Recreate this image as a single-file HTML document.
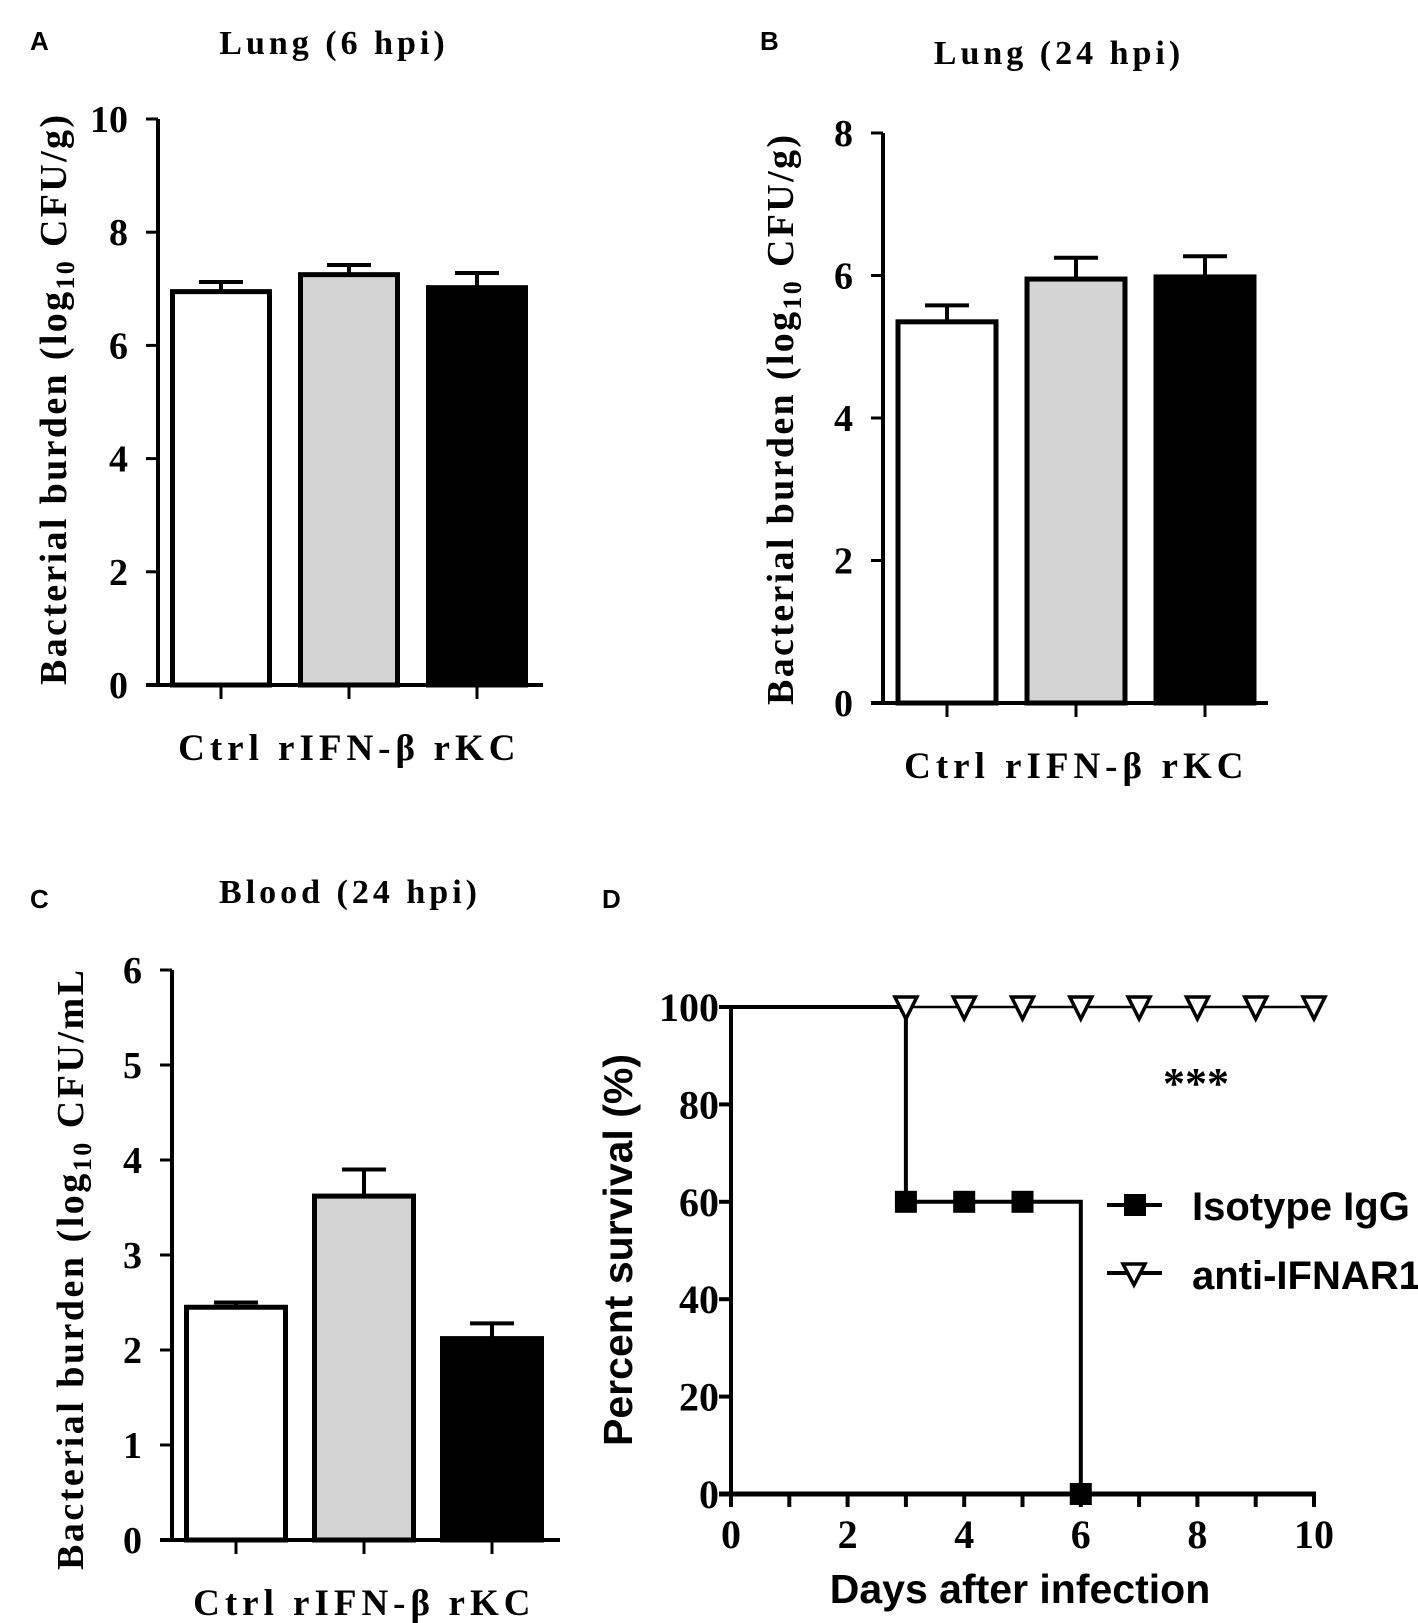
<!DOCTYPE html>
<html><head><meta charset="utf-8"><style>
html,body{margin:0;padding:0;background:#fff}
svg{display:block}
.serif{font-family:"Liberation Serif",serif;font-weight:bold}
.sans{font-family:"Liberation Sans",sans-serif;font-weight:bold}
</style></head><body>
<svg id="fig" width="1418" height="1623" viewBox="0 0 1418 1623" xmlns="http://www.w3.org/2000/svg">
<g id="gA"></g>
<g id="gB"></g>
<g id="gC"></g>
<g id="gD"></g>
</svg>
<script>
const categories = ["Ctrl", "rIFN-β", "rKC"];
const barFills = ["#ffffff", "#d4d4d4", "#000000"];
const aMeans = [6.95, 7.25, 7.02];
const aErrors = [0.17, 0.17, 0.26];
const aTicks = [0, 2, 4, 6, 8, 10];
const bMeans = [5.35, 5.95, 5.98];
const bErrors = [0.23, 0.3, 0.29];
const bTicks = [0, 2, 4, 6, 8];
const cMeans = [2.45, 3.62, 2.12];
const cErrors = [0.05, 0.28, 0.16];
const cTicks = [0, 1, 2, 3, 4, 5, 6];
const dDays = [0, 1, 2, 3, 4, 5, 6, 7, 8, 9, 10];
const dXTicks = [0, 2, 4, 6, 8, 10];
const dYTicks = [0, 20, 40, 60, 80, 100];
const isoStepX = [0, 3, 3, 6, 6, 10];
const isoStepY = [100, 100, 60, 60, 0, 0];
const isoMarkX = [3, 4, 5, 6];
const isoMarkY = [60, 60, 60, 0];
const antiStepX = [0, 10];
const antiStepY = [100, 100];
const antiMarkX = [3, 4, 5, 6, 7, 8, 9, 10];
const antiMarkY = [100, 100, 100, 100, 100, 100, 100, 100];

const NS = "http://www.w3.org/2000/svg";
function mk(parent, tag, attrs, text) {
  const e = document.createElementNS(NS, tag);
  for (const k in attrs) e.setAttribute(k, attrs[k]);
  if (text !== undefined) e.textContent = text;
  parent.appendChild(e);
  return e;
}

function barPanel(g, cfg, means, errs, ticks) {
  const ymax = ticks[ticks.length - 1];
  const y = v => cfg.y0 - (v / ymax) * (cfg.y0 - cfg.yTop);
  const cx = i => cfg.c0 + i * cfg.step;
  let el = mk(g, "text", {x: cfg.lx, y: cfg.ly, class: "sans", "font-size": 26}, cfg.letter);
  
  
  el = mk(g, "text", {x: cfg.tx, y: cfg.ty, class: "serif", "font-size": 34, "text-anchor": "middle", "letter-spacing": 4}, cfg.title);
  
  
  means.forEach((m, i) => {
    const x0 = cx(i) - cfg.bw / 2;
    const r = mk(g, "rect", {x: x0, y: y(m), width: cfg.bw, height: cfg.y0 - y(m), fill: barFills[i], stroke: "#000", "stroke-width": 5});
    
    
    const e1 = mk(g, "line", {x1: cx(i), x2: cx(i), y1: y(m), y2: y(m + errs[i]), stroke: "#000", "stroke-width": 4});
    
    
    const e2 = mk(g, "line", {x1: cx(i) - 22, x2: cx(i) + 22, y1: y(m + errs[i]), y2: y(m + errs[i]), stroke: "#000", "stroke-width": 4});
    
    
    const tk = mk(g, "line", {x1: cx(i), x2: cx(i), y1: cfg.y0, y2: cfg.y0 + 14, stroke: "#000", "stroke-width": 3});
    
    
    const lb = mk(g, "text", {x: cx(i), y: cfg.y0 + 75, class: "serif", "font-size": 37, "text-anchor": "middle", "letter-spacing": 5}, categories[i]);
    
    
  });
  el = mk(g, "line", {x1: cfg.ax, x2: cfg.ax, y1: cfg.yTop, y2: cfg.y0, stroke: "#000", "stroke-width": 4});
  
  
  el = mk(g, "line", {x1: cfg.ax - 12, x2: cfg.xEnd, y1: cfg.y0, y2: cfg.y0, stroke: "#000", "stroke-width": 4});
  
  
  ticks.forEach(t => {
    const tl = mk(g, "line", {x1: cfg.ax - 12, x2: cfg.ax, y1: y(t), y2: y(t), stroke: "#000", "stroke-width": 3});
    
    
    const tt = mk(g, "text", {x: cfg.ax - 30, y: y(t) + 13, class: "serif", "font-size": 38, "text-anchor": "end"}, String(t));
    
    
  });
  const yt = mk(g, "text", {x: 0, y: 0, class: "serif", "font-size": 38, "text-anchor": "middle", transform: `translate(${cfg.yx},${cfg.yc}) rotate(-90)`, textLength: cfg.yl, lengthAdjust: "spacing"});
  
  
  mk(yt, "tspan", {}, cfg.yA);
  mk(yt, "tspan", {"font-size": 26, dy: 8}, "10");
  mk(yt, "tspan", {dy: -8}, cfg.yB);
}

barPanel(document.getElementById("gA"),
  {letter: "A", lx: 30, ly: 50, title: "Lung (6 hpi)", tx: 334, ty: 54, y0: 685, yTop: 119, ax: 158, xEnd: 543, c0: 221, step: 128, bw: 97, yx: 66, yc: 400, yl: 570, yA: "Bacterial burden (log", yB: " CFU/g)"},
  aMeans, aErrors, aTicks);
barPanel(document.getElementById("gB"),
  {letter: "B", lx: 760, ly: 50, title: "Lung (24 hpi)", tx: 1059, ty: 64, y0: 703, yTop: 133, ax: 883, xEnd: 1268, c0: 947, step: 129, bw: 98, yx: 793, yc: 420, yl: 570, yA: "Bacterial burden (log", yB: " CFU/g)"},
  bMeans, bErrors, bTicks);
barPanel(document.getElementById("gC"),
  {letter: "C", lx: 30, ly: 908, title: "Blood (24 hpi)", tx: 350, ty: 903, y0: 1540, yTop: 970, ax: 172, xEnd: 560, c0: 236, step: 128, bw: 99, yx: 83, yc: 1270, yl: 600, yA: "Bacterial burden (log", yB: " CFU/mL"},
  cMeans, cErrors, cTicks);

(function () {
  const g = document.getElementById("gD");
  const x0 = 731, x1 = 1314, y0 = 1494, y1 = 1007;
  const X = d => x0 + (d / 10) * (x1 - x0);
  const Y = v => y0 - (v / 100) * (y0 - y1);
  let el = mk(g, "text", {x: 602, y: 908, class: "sans", "font-size": 26}, "D");
  
  
  let pts = antiStepX.map((d, i) => X(d) + "," + Y(antiStepY[i])).join(" ");
  el = mk(g, "polyline", {points: pts, fill: "none", stroke: "#000", "stroke-width": 2.5});
  
  
  pts = isoStepX.map((d, i) => X(d) + "," + Y(isoStepY[i])).join(" ");
  el = mk(g, "polyline", {points: pts, fill: "none", stroke: "#000", "stroke-width": 4});
  
  
  el = mk(g, "line", {x1: x0, x2: x0, y1: y1, y2: y0, stroke: "#000", "stroke-width": 4});
  
  
  el = mk(g, "line", {x1: x0 - 12, x2: x1 + 2, y1: y0, y2: y0, stroke: "#000", "stroke-width": 5});
  
  
  dYTicks.forEach(t => {
    const tl = mk(g, "line", {x1: x0 - 12, x2: x0, y1: Y(t), y2: Y(t), stroke: "#000", "stroke-width": 4});
    
    
    const tt = mk(g, "text", {x: x0 - 12, y: Y(t) + 14, class: "serif", "font-size": 40, "text-anchor": "end"}, String(t));
    
    
  });
  dDays.forEach(d => {
    const tl = mk(g, "line", {x1: X(d), x2: X(d), y1: y0, y2: y0 + 13, stroke: "#000", "stroke-width": 4});
    
    
  });
  dXTicks.forEach(d => {
    const tt = mk(g, "text", {x: X(d), y: y0 + 54, class: "serif", "font-size": 40, "text-anchor": "middle"}, String(d));
    
    
  });
  isoMarkX.forEach((d, i) => {
    const r = mk(g, "rect", {x: X(d) - 11, y: Y(isoMarkY[i]) - 11, width: 22, height: 22, fill: "#000"});
    
    
  });
  antiMarkX.forEach((d, i) => {
    const cx = X(d), cy = Y(antiMarkY[i]);
    const p = mk(g, "polygon", {points: `${cx - 11},${cy - 10} ${cx + 11},${cy - 10} ${cx},${cy + 12}`, fill: "#fff", stroke: "#000", "stroke-width": 3.5});
    
    
  });
  el = mk(g, "text", {x: 1196, y: 1098, class: "serif", "font-size": 44, "text-anchor": "middle"}, "***");
  
  
  el = mk(g, "line", {x1: 1107, x2: 1162, y1: 1205, y2: 1205, stroke: "#000", "stroke-width": 4});
  
  
  el = mk(g, "rect", {x: 1124, y: 1194, width: 22, height: 22, fill: "#000"});
  
  
  el = mk(g, "text", {x: 1192, y: 1220, class: "sans", "font-size": 40}, "Isotype IgG");
  
  
  el = mk(g, "line", {x1: 1107, x2: 1162, y1: 1273, y2: 1273, stroke: "#000", "stroke-width": 4});
  
  
  el = mk(g, "polygon", {points: "1123,1264 1145,1264 1134,1285", fill: "#fff", stroke: "#000", "stroke-width": 3.5});
  
  
  el = mk(g, "text", {x: 1192, y: 1289, class: "sans", "font-size": 40}, "anti-IFNAR1");
  
  
  el = mk(g, "text", {x: 1020, y: 1603, class: "sans", "font-size": 41, "text-anchor": "middle"}, "Days after infection");
  
  
  el = mk(g, "text", {x: 0, y: 0, class: "sans", "font-size": 41, "text-anchor": "middle", transform: "translate(632,1250) rotate(-90)"}, "Percent survival (%)");
  
  
})();
</script>
</body></html>
